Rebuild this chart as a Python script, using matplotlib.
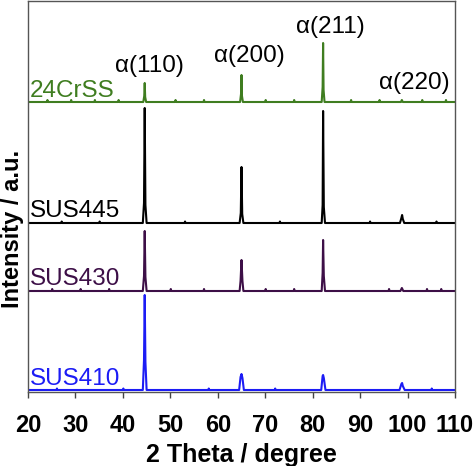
import matplotlib.pyplot as plt

plt.rcParams['font.family'] = ['Liberation Sans', 'DejaVu Sans']

# 2 theta / intensity points (a.u., offsets added below)
tt_410 = [20, 26, 26.1, 26.2, 40, 40.1, 40.2, 44.2, 44.45, 44.6, 44.75, 45.0, 58, 58.1, 58.2,
          64.5, 64.8, 65.0, 65.2, 65.5, 72, 72.1, 72.2, 81.8, 82.1, 82.2, 82.35, 82.7,
          98.3, 98.7, 98.85, 99.0, 99.4, 105, 105.1, 105.2, 110]
i_410 = [0, 0, 1.5, 0, 0, 1.5, 0, 0, 30, 95, 28, 0, 0, 1.5, 0,
         0, 13, 16, 12, 0, 0, 1.5, 0, 0, 14, 15, 12, 0,
         0, 6, 7, 4, 0, 0, 1.5, 0, 0]

tt_430 = [20, 25, 25.1, 25.2, 31, 31.1, 31.2, 37, 37.1, 37.2, 44.2, 44.45, 44.6, 44.75, 45.0,
          50, 50.1, 50.2, 57, 57.1, 57.2, 64.6, 64.8, 65.0, 65.2, 65.4, 70, 70.1, 70.2,
          76, 76.1, 76.2, 81.9, 82.1, 82.2, 82.35, 82.6, 96, 96.1, 96.2,
          98.5, 98.8, 99.1, 104, 104.1, 104.2, 107, 107.1, 107.2, 110]
i_430 = [0, 0, 2, 0, 0, 2, 0, 0, 2, 0, 0, 15, 60, 14, 0,
         0, 2, 0, 0, 2, 0, 0, 10, 31, 10, 0, 0, 2, 0,
         0, 2, 0, 0, 18, 51, 15, 0, 0, 2, 0,
         0, 3, 0, 0, 2, 0, 0, 2, 0, 0]

tt_445 = [20, 27, 27.1, 27.2, 35, 35.1, 35.2, 44.2, 44.45, 44.6, 44.75, 45.0, 53, 53.1, 53.2,
          64.6, 64.85, 65.0, 65.15, 65.4, 73, 73.1, 73.2, 81.9, 82.1, 82.2, 82.35, 82.6,
          92, 92.1, 92.2, 98.4, 98.7, 98.85, 99.0, 99.3, 106, 106.1, 106.2, 110]
i_445 = [0, 0, 1.5, 0, 0, 1.5, 0, 0, 20, 115, 18, 0, 0, 1.5, 0,
         0, 10, 56, 9, 0, 0, 1.5, 0, 0, 18, 112, 16, 0,
         0, 1.5, 0, 0, 5, 8, 4, 0, 0, 1.5, 0, 0]

tt_24 = [20, 24, 24.1, 24.2, 29, 29.1, 29.2, 34, 34.1, 34.2, 39, 39.1, 39.2,
         44.3, 44.5, 44.6, 44.7, 44.9, 51, 51.1, 51.2, 57, 57.1, 57.2,
         64.7, 64.9, 65.0, 65.1, 65.3, 70, 70.1, 70.2, 76, 76.1, 76.2,
         81.9, 82.1, 82.2, 82.3, 82.5, 88, 88.1, 88.2, 94, 94.1, 94.2,
         98.6, 98.8, 99.0, 103, 103.1, 103.2, 108, 108.1, 108.2, 110]
i_24 = [0, 0, 2, 0, 0, 2, 0, 0, 2, 0, 0, 2, 0,
        0, 6, 19, 5, 0, 0, 2, 0, 0, 2, 0,
        0, 8, 27, 6, 0, 0, 2, 0, 0, 2, 0,
        0, 15, 59, 12, 0, 0, 2, 0, 0, 2, 0,
        0, 2, 0, 0, 2, 0, 0, 2, 0, 0]

names = ['SUS410', 'SUS430', 'SUS445', '24CrSS']
offsets = [2, 101, 169, 290]
colors = ['#1c1cf5', '#3d0f47', '#000000', '#3f7d20']
traces = [(tt_410, i_410), (tt_430, i_430), (tt_445, i_445), (tt_24, i_24)]
label_y = [7, 107, 175, 295]

peaks = ['α(110)', 'α(200)', 'α(211)', 'α(220)']
peak_x = [45.5, 66.6, 83.7, 101.5]
peak_y = [320, 330, 359, 303]

fig = plt.figure(figsize=(4.74, 4.66), dpi=100)
ax = fig.add_axes([28 / 474, 74 / 466, 427 / 474, 391 / 466])

for (tt, inten), off, c, name, ly in zip(traces, offsets, colors, names, label_y):
    ax.plot(tt, [v + off for v in inten], color=c, lw=1.5)
    ax.text(20.4, ly, name, color=c, fontsize=17.5, va='baseline', ha='left')

for lab, px, py in zip(peaks, peak_x, peak_y):
    ax.text(px, py, lab, fontsize=17.5, ha='center', va='baseline')

ax.set_xlim(20, 110)
ax.set_ylim(0, 391)
ax.set_xticks(range(20, 111, 10))
ax.set_yticks([])
ax.tick_params(axis='x', direction='out', length=4, width=1, color='#444444', pad=12)
for lbl in ax.get_xticklabels():
    lbl.set_fontsize(17)
    lbl.set_fontweight('bold')
for sp in ax.spines.values():
    sp.set_color('#555555')
    sp.set_linewidth(1)

ax.set_xlabel('2 Theta / degree', fontsize=18, fontweight='bold', labelpad=4)
ax.set_ylabel('Intensity / a.u.', fontsize=17, fontweight='bold')
ax.yaxis.set_label_coords(-4 / 427, 0.417)

fig.savefig('out.png', dpi=100)
